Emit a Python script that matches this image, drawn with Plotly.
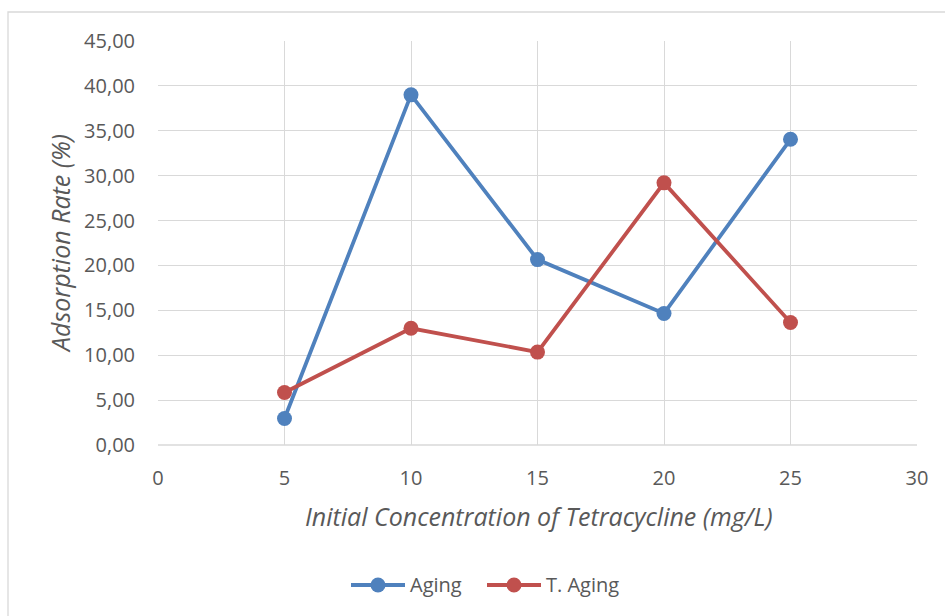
import plotly.graph_objects as go

# Initial tetracycline concentration (mg/L)
concentration = [5, 10, 15, 20, 25]

# Adsorption rate (%) per series
aging = [2.95, 39.0, 20.65, 14.65, 34.05]
t_aging = [5.85, 13.0, 10.35, 29.2, 13.65]

series_names = ["Aging", "T. Aging"]
series_colors = ["#4F81BD", "#C0504D"]

x_ticks = [0, 5, 10, 15, 20, 25, 30]
y_ticks = [0, 5, 10, 15, 20, 25, 30, 35, 40, 45]

FONT = "Open Sans, Liberation Sans, sans-serif"
TEXT_COLOR = "#595959"
GRID = "#D9D9D9"
LINE_W = 3.8
MARKER = 15

fig = go.Figure()
for name, values, color in zip(series_names, [aging, t_aging], series_colors):
    fig.add_trace(go.Scatter(
        x=concentration, y=values, name=name,
        mode="lines+markers",
        line=dict(color=color, width=LINE_W),
        marker=dict(color=color, size=MARKER),
        showlegend=False,
    ))

# plot area geometry in pixels
W, H = 945, 616
L, R, T, B = 158, 28, 41, 171
pw, ph = W - L - R, H - T - B

def px(xp):
    return (xp - L) / pw

def py(yp):
    return (H - B - yp) / ph

shapes = [
    # outer chart frame
    dict(type="rect", xref="paper", yref="paper",
         x0=px(8), x1=px(W + 20), y0=py(H + 20), y1=py(12),
         line=dict(color=GRID, width=1.3), layer="below"),
    # bottom axis line
    dict(type="line", xref="paper", yref="paper",
         x0=0, x1=1, y0=0, y1=0, line=dict(color=GRID, width=1.5)),
]
annotations = [
    dict(text="<i>Initial Concentration of Tetracycline (mg/L)</i>",
         xref="paper", yref="paper", x=px(539), y=py(516),
         xanchor="center", yanchor="middle", showarrow=False,
         font=dict(size=25, color=TEXT_COLOR, family=FONT)),
    dict(text="<i>Adsorption Rate (%)</i>",
         xref="paper", yref="paper", x=px(60), y=py(243),
         xanchor="center", yanchor="middle", showarrow=False,
         textangle=-90,
         font=dict(size=25, color=TEXT_COLOR, family=FONT)),
]

# legend: line sample with a centred marker, followed by the series name
legend_y = 585
legend_items = [(351, 405), (487, 541)]
for (x0, x1), name, color in zip(legend_items, series_names, series_colors):
    shapes.append(dict(type="line", xref="paper", yref="paper",
                       x0=px(x0), x1=px(x1), y0=py(legend_y), y1=py(legend_y),
                       line=dict(color=color, width=LINE_W)))
    cx = (x0 + x1) / 2
    r = MARKER / 2
    shapes.append(dict(type="circle", xref="paper", yref="paper",
                       x0=px(cx - r), x1=px(cx + r),
                       y0=py(legend_y + r), y1=py(legend_y - r),
                       fillcolor=color, line=dict(color=color, width=0)))
    annotations.append(dict(text=name, xref="paper", yref="paper",
                            x=px(x1 + 3), y=py(legend_y - 1),
                            xanchor="left", yanchor="middle", showarrow=False,
                            font=dict(size=20, color=TEXT_COLOR, family=FONT)))

fig.update_layout(
    width=W, height=H,
    margin=dict(l=L, r=R, t=T, b=B),
    paper_bgcolor="white", plot_bgcolor="white",
    separators=",.",
    font=dict(family=FONT, color=TEXT_COLOR, size=20),
    showlegend=False,
    xaxis=dict(
        range=[0, 30], tickvals=x_ticks, ticktext=[str(v) for v in x_ticks],
        showgrid=True, gridcolor=GRID, gridwidth=1.3,
        zeroline=False, showline=False,
        ticks="", ticklabelstandoff=19,
        tickfont=dict(size=20, color=TEXT_COLOR),
    ),
    yaxis=dict(
        range=[0, 45], tickvals=y_ticks, tickformat=".2f",
        showgrid=True, gridcolor=GRID, gridwidth=1.3,
        zeroline=False, showline=False,
        ticks="", ticklabelstandoff=22,
        tickfont=dict(size=20, color=TEXT_COLOR),
    ),
    shapes=shapes,
    annotations=annotations,
)

fig.write_html("out.html")
